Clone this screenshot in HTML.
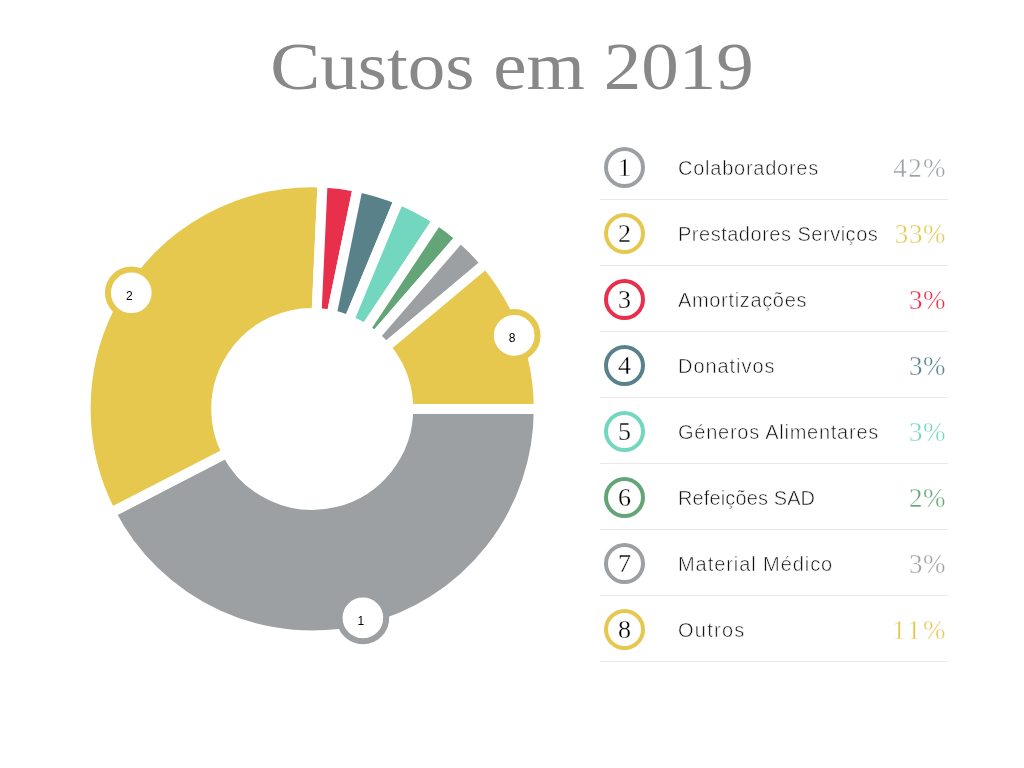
<!DOCTYPE html>
<html lang="pt"><head><meta charset="utf-8"><title>Custos em 2019</title>
<style>
html,body{margin:0;padding:0;background:#fff;}
body{width:1024px;height:768px;position:relative;overflow:hidden;font-family:"Liberation Sans", sans-serif;}
h1{position:absolute;left:0;top:29.6px;width:1024px;margin:0;text-align:center;font-family:"Liberation Serif", serif;font-weight:400;font-size:67px;line-height:72px;letter-spacing:0px;color:#888;white-space:nowrap;transform:scaleX(1.12);transform-origin:512px 0;}
svg{position:absolute;left:0;top:0;will-change:transform;}
svg text{font-family:"Liberation Sans", sans-serif;font-size:12px;fill:#000;text-anchor:middle;}
ul{position:absolute;left:600px;top:134px;width:348px;margin:0;padding:0;list-style:none;will-change:transform;}
li{position:relative;height:65px;border-bottom:1px solid #e8e8e8;}
.n{position:absolute;left:4px;top:13px;width:33px;height:33px;border:4px solid #999;border-radius:50%;box-sizing:content-box;}
.n b{position:absolute;left:0;top:0px;width:33px;line-height:33px;text-align:center;font-family:"Liberation Serif", serif;font-weight:400;font-size:26px;color:#000;-webkit-text-stroke:0.3px #fff;}
.l{position:absolute;left:78px;top:1px;line-height:66px;font-family:"Liberation Sans", sans-serif;font-weight:400;font-size:20px;letter-spacing:0.75px;color:#111;white-space:nowrap;-webkit-text-stroke:0.55px #fff;}
.p{position:absolute;right:2.5px;top:1px;line-height:66px;font-family:"Liberation Serif", serif;font-size:27px;letter-spacing:0.6px;white-space:nowrap;-webkit-text-stroke:0.4px #fff;}
</style></head><body>
<h1>Custos em 2019</h1>
<svg width="1024" height="768" viewBox="0 0 1024 768">
<g stroke="#fff" stroke-width="10" stroke-linejoin="miter">
<path d="M538.80 408.95A226.6 226.6 0 0 1 110.75 512.71L226.86 452.91A96.0 96.0 0 0 0 408.20 408.95Z" fill="#9ca0a3"/>
<path d="M110.75 512.71A226.6 226.6 0 0 1 322.59 182.59L316.60 313.05A96.0 96.0 0 0 0 226.86 452.91Z" fill="#e6c84f"/>
<path d="M322.59 182.59A226.6 226.6 0 0 1 357.87 187.00L331.55 314.92A96.0 96.0 0 0 0 316.60 313.05Z" fill="#e82f4c"/>
<path d="M357.87 187.00A226.6 226.6 0 0 1 399.05 199.65L348.99 320.28A96.0 96.0 0 0 0 331.55 314.92Z" fill="#58818a"/>
<path d="M399.05 199.65A226.6 226.6 0 0 1 437.56 220.18L365.31 328.98A96.0 96.0 0 0 0 348.99 320.28Z" fill="#73d7bf"/>
<path d="M437.56 220.18A226.6 226.6 0 0 1 460.44 237.57L375.00 336.34A96.0 96.0 0 0 0 365.31 328.98Z" fill="#64a577"/>
<path d="M460.44 237.57A226.6 226.6 0 0 1 485.80 263.31L385.74 347.25A96.0 96.0 0 0 0 375.00 336.34Z" fill="#9ca0a3"/>
<path d="M485.80 263.31A226.6 226.6 0 0 1 538.80 408.95L408.20 408.95A96.0 96.0 0 0 0 385.74 347.25Z" fill="#e6c84f"/>
</g>
<g class="mk">
<circle cx="362.9" cy="617.9" r="23.3" fill="#fff" stroke="#9ca0a3" stroke-width="6"/><text x="360.9" y="624.9">1</text>
<circle cx="131.3" cy="292.8" r="23.3" fill="#fff" stroke="#e6c84f" stroke-width="6"/><text x="129.3" y="299.8">2</text>
<circle cx="514.2" cy="335.4" r="23.3" fill="#fff" stroke="#e6c84f" stroke-width="6"/><text x="512.2" y="342.4">8</text>
</g>

</svg>
<ul>
<li><span class="n" style="border-color:#9ca0a3"><b>1</b></span><span class="l" style="letter-spacing:0.75px">Colaboradores</span><span class="p" style="color:#9ca0a3;letter-spacing:1.35px;margin-right:-1.35px">42%</span></li>
<li><span class="n" style="border-color:#e6c84f"><b>2</b></span><span class="l" style="letter-spacing:0.51px">Prestadores Serviços</span><span class="p" style="color:#e6c84f;letter-spacing:0.6px;margin-right:-0.6px">33%</span></li>
<li><span class="n" style="border-color:#e82f4c"><b>3</b></span><span class="l" style="letter-spacing:0.66px">Amortizações</span><span class="p" style="color:#e82f4c;letter-spacing:0.6px;margin-right:-0.6px">3%</span></li>
<li><span class="n" style="border-color:#58818a"><b>4</b></span><span class="l" style="letter-spacing:0.95px">Donativos</span><span class="p" style="color:#58818a;letter-spacing:0.6px;margin-right:-0.6px">3%</span></li>
<li><span class="n" style="border-color:#73d7bf"><b>5</b></span><span class="l" style="letter-spacing:0.75px">Géneros Alimentares</span><span class="p" style="color:#73d7bf;letter-spacing:0.6px;margin-right:-0.6px">3%</span></li>
<li><span class="n" style="border-color:#64a577"><b>6</b></span><span class="l" style="letter-spacing:0.12px">Refeições SAD</span><span class="p" style="color:#64a577;letter-spacing:0.6px;margin-right:-0.6px">2%</span></li>
<li><span class="n" style="border-color:#9ca0a3"><b>7</b></span><span class="l" style="letter-spacing:0.93px">Material Médico</span><span class="p" style="color:#9ca0a3;letter-spacing:0.6px;margin-right:-0.6px">3%</span></li>
<li><span class="n" style="border-color:#e6c84f"><b>8</b></span><span class="l" style="letter-spacing:1.27px">Outros</span><span class="p" style="color:#e6c84f;letter-spacing:2.5px;margin-right:-2.5px">11%</span></li>
</ul>
</body></html>
